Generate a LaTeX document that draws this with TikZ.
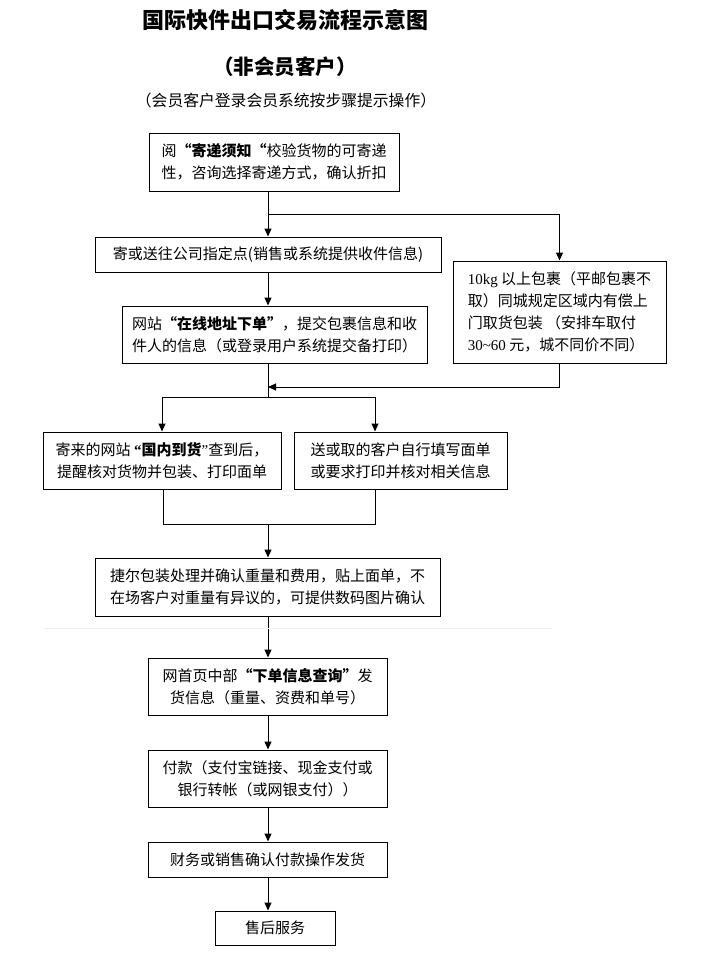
\documentclass[tikz,border=0pt]{standalone}
\usepackage{fontspec}
\setmainfont{Liberation Serif}
\newfontfamily\cjk{Noto Sans CJK SC}
\newfontfamily\lat{Liberation Serif}
\usetikzlibrary{arrows.meta}
\tikzset{every picture/.style={line width=1pt}}
\tikzset{
  flowbox/.style={draw, inner sep=0pt, align=center, font=\cjk\fontsize{15}{22}\selectfont},
  arr/.style={-{Triangle[length=8pt,width=7pt]}},
}

\begin{document}
\begin{tikzpicture}[x=1pt,y=1pt,yscale=-1]
\fill[white] (0,0) rectangle (706,970);
\useasboundingbox (0,0) rectangle (706,970);

%Text: titles
\node (title) at (285.5,20) {\cjk\bfseries\fontsize{22}{24}\selectfont 国际快件出口交易流程示意图};
\node (subtitle) at (285,67) {\cjk\bfseries\fontsize{20.5}{22}\selectfont （非会员客户）};
\node (note) at (286,100) {\cjk\fontsize{15.8}{18}\selectfont （会员客户登录会员系统按步骤提示操作）};

%Shape: Rectangle
\node[flowbox, minimum width=250, minimum height=58] (read) at (274,162)
  {阅\textbf{“寄递须知“}校验货物的可寄递\\性，咨询选择寄递方式，确认折扣};
%Shape: Rectangle
\node[flowbox, minimum width=346, minimum height=35] (send) at (268,254.5)
  {寄或送往公司指定点(销售或系统提供收件信息)};
%Shape: Rectangle
\node[flowbox, minimum width=305, minimum height=57] (online) at (274.5,334.5)
  {网站\textbf{“在线地址下单”}，提交包裹信息和收\\件人的信息（或登录用户系统提交备打印）};
%Shape: Rectangle
\node[flowbox, align=left, minimum width=213, minimum height=102] (pickup) at (559.5,312)
  {{\lat 10kg} 以上包裹（平邮包裹不\\取）同城规定区域内有偿上\\门取货包装 （安排车取付\\{\lat 30\textasciitilde60} 元，城不同价不同）};
%Shape: Rectangle
\node[flowbox, minimum width=238, minimum height=57] (arrived) at (162,460.5)
  {寄来的网站 \textbf{{\lat“}国内到货}{\lat”}查到后，\\提醒核对货物并包装、打印面单};
%Shape: Rectangle
\node[flowbox, minimum width=213, minimum height=57] (fillin) at (400.5,460.5)
  {送或取的客户自行填写面单\\或要求打印并核对相关信息};
%Shape: Rectangle
\node[flowbox, minimum width=345, minimum height=58] (pack) at (267.5,587)
  {捷尔包装处理并确认重量和费用，贴上面单，不\\在场客户对重量有异议的，可提供数码图片确认};
%Shape: Rectangle
\node[flowbox, minimum width=239, minimum height=57] (query) at (267.5,686.5)
  {网首页中部\textbf{“下单信息查询”}发\\货信息（重量、资费和单号）};
%Shape: Rectangle
\node[flowbox, minimum width=239, minimum height=57] (pay) at (267.5,778.5)
  {付款（支付宝链接、现金支付或\\银行转帐（或网银支付））};
%Shape: Rectangle
\node[flowbox, minimum width=239, minimum height=35] (ship) at (267.5,859.5)
  {财务或销售确认付款操作发货};
%Shape: Rectangle
\node[flowbox, minimum width=120, minimum height=34] (service) at (275,928)
  {售后服务};

%Points on the main line
\coordinate (fork1) at (268,214);
\coordinate (join1) at (268,387);
\coordinate (fork2) at (268,397);
\coordinate (fork2r) at (375,397);
\coordinate (join2) at (268,524);
\coordinate (join2l) at (163,524);
\coordinate (join2r) at (375,524);

%Straight Lines
\draw (fork1 |- read.south) -- (fork1);
\draw[arr] (fork1) -- (fork1 |- send.north);
\draw[arr] (fork1) -| (pickup.north);
\draw[arr] (send.south -| fork1) -- (online.north -| fork1);
\draw[arr] (pickup.south) |- (join1);
\draw (online.south -| fork2) -- (fork2);
\draw[arr] (fork2) -| (arrived.north);
\draw[arr] (fork2) -- (fork2r) -- (fork2r |- fillin.north);
\draw (arrived.south -| join2l) -- (join2l) -- (join2r) -- (join2r |- fillin.south);
\draw[arr] (join2) -- (join2 |- pack.north);
\draw[arr] (pack.south -| join2) -- (query.north -| join2);
\draw[arr] (query.south -| join2) -- (pay.north -| join2);
\draw[arr] (pay.south -| join2) -- (ship.north -| join2);
\draw[arr] (ship.south -| join2) -- (service.north -| join2);

%Straight Lines (faint rule)
\draw[black!6] (44,628) -- (552,628);

\end{tikzpicture}
\end{document}
